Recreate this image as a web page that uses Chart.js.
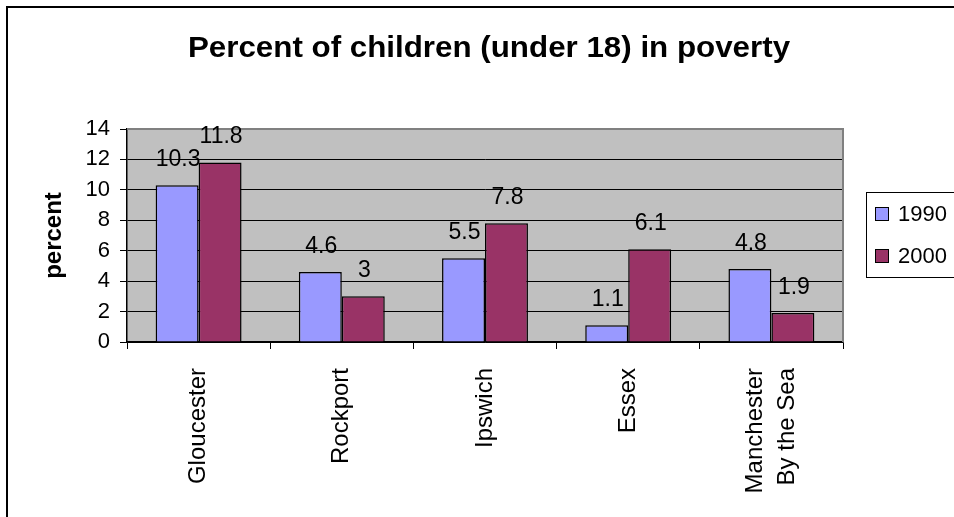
<!DOCTYPE html>
<html>
<head>
<meta charset="utf-8">
<script src="https://cdn.jsdelivr.net/npm/chart.js@4/dist/chart.umd.min.js"></script>
<style>
  html, body { margin: 0; padding: 0; background: #fff; }
  #wrap { width: 954px; height: 517px; }
</style>
</head>
<body>
<div id="wrap"><canvas id="povertyChart" width="954" height="517"></canvas></div>
<script>
// towns and poverty rates (percent of children under 18)
var categories = ['Gloucester', 'Rockport', 'Ipswich', 'Essex', ['Manchester', 'By the Sea']];
var seriesNames = ['1990', '2000'];
var values1990 = [10.3, 4.6, 5.5, 1.1, 4.8];
var values2000 = [11.8, 3, 7.8, 6.1, 1.9];
var yMin = 0, yMax = 14, yStep = 2;

var chartTitle = 'Percent of children (under 18) in poverty';
var FONT = "'Liberation Sans', Arial, sans-serif";

var excelLook = {
    id: 'excelLook',
    beforeDraw: function (chart) {
        var ctx = chart.ctx, a = chart.chartArea;
        ctx.save();
        ctx.fillStyle = '#ffffff';
        ctx.fillRect(0, 0, chart.width, chart.height);
        ctx.fillStyle = '#c0c0c0';
        ctx.fillRect(a.left, a.top, a.right - a.left, a.bottom - a.top);
        ctx.restore();

        // two-line category labels: center the pair of lines on the tick
        var items = chart.scales.x.getLabelItems();
        items.forEach(function (it) {
            if (Array.isArray(it.label) && !it._centered) {
                var lh = chart.scales.x.options.ticks.font.size * chart.scales.x.options.ticks.font.lineHeight;
                it.options.translation[0] -= (it.label.length - 1) * lh / 2;
                it._centered = true;
            }
        });
    },
    afterDraw: function (chart) {
        var ctx = chart.ctx, a = chart.chartArea;
        ctx.save();

        // plot area frame (top and right)
        ctx.strokeStyle = '#808080';
        ctx.lineWidth = 2;
        ctx.beginPath();
        ctx.moveTo(a.left, a.top);
        ctx.lineTo(a.right, a.top);
        ctx.lineTo(a.right, a.bottom);
        ctx.stroke();

        // outer chart frame
        ctx.strokeStyle = '#000';
        ctx.lineWidth = 2;
        ctx.strokeRect(7, 7, 980, 540);

        // title, slightly widened like the original chart font
        ctx.fillStyle = '#000';
        ctx.font = 'bold 29px ' + FONT;
        ctx.textAlign = 'center';
        ctx.textBaseline = 'alphabetic';
        ctx.save();
        ctx.translate(489, 57);
        ctx.scale(1.08, 1);
        ctx.fillText(chartTitle, 0, 0);
        ctx.restore();

        // value labels above bars
        ctx.font = '23px ' + FONT;
        chart.data.datasets.forEach(function (ds, i) {
            chart.getDatasetMeta(i).data.forEach(function (bar, j) {
                ctx.fillText(String(ds.data[j]), bar.x + 1, bar.y - 19);
            });
        });

        // legend box
        ctx.font = '22px ' + FONT;
        ctx.lineWidth = 1;
        ctx.strokeStyle = '#000';
        ctx.strokeRect(866.5, 192.5, 120, 85);
        ctx.textAlign = 'left';
        ctx.textBaseline = 'middle';
        chart.data.datasets.forEach(function (ds, i) {
            var cy = 214 + i * 42;
            ctx.fillStyle = ds.backgroundColor;
            ctx.fillRect(875, cy - 7, 14, 14);
            ctx.strokeRect(875.5, cy - 6.5, 13, 13);
            ctx.fillStyle = '#000';
            ctx.fillText(ds.label, 898, cy + 1);
        });

        ctx.restore();
    }
};

var canvas = document.getElementById('povertyChart');
new Chart(canvas.getContext('2d'), {
    type: 'bar',
    data: {
        labels: categories,
        datasets: [{
            label: seriesNames[0],
            data: values1990,
            backgroundColor: '#9999ff',
            borderColor: '#000',
            borderWidth: 1.5,
            categoryPercentage: 0.6,
            barPercentage: 1.0
        }, {
            label: seriesNames[1],
            data: values2000,
            backgroundColor: '#993366',
            borderColor: '#000',
            borderWidth: 1.5,
            categoryPercentage: 0.6,
            barPercentage: 1.0
        }]
    },
    options: {
        responsive: false,
        animation: false,
        layout: { padding: { left: 30, top: 129, right: 111, bottom: 0 } },
        plugins: {
            legend: { display: false },
            title: { display: false },
            tooltip: { enabled: false }
        },
        scales: {
            x: {
                afterFit: function (scale) { scale.height = 175; },
                grid: { display: true, drawOnChartArea: false, drawTicks: true, tickLength: 7, color: '#000', lineWidth: 1 },
                border: { display: true, color: '#000', width: 1.5 },
                ticks: {
                    color: '#000',
                    font: { family: FONT, size: 24, lineHeight: 1.33 },
                    minRotation: 90,
                    maxRotation: 90,
                    autoSkip: false,
                    padding: 19
                }
            },
            y: {
                min: yMin,
                max: yMax,
                afterFit: function (scale) { scale.width = 97; },
                grid: { color: '#000', lineWidth: 1, drawTicks: true, tickLength: 7 },
                border: { display: true, color: '#000', width: 1.5 },
                ticks: {
                    stepSize: yStep,
                    color: '#000',
                    font: { family: FONT, size: 22 },
                    padding: 10
                },
                title: {
                    display: true,
                    text: 'percent',
                    color: '#000',
                    font: { family: FONT, size: 24, weight: 'bold' },
                    padding: { top: 10, bottom: 0 }
                }
            }
        }
    },
    plugins: [excelLook]
});
</script>
</body>
</html>
